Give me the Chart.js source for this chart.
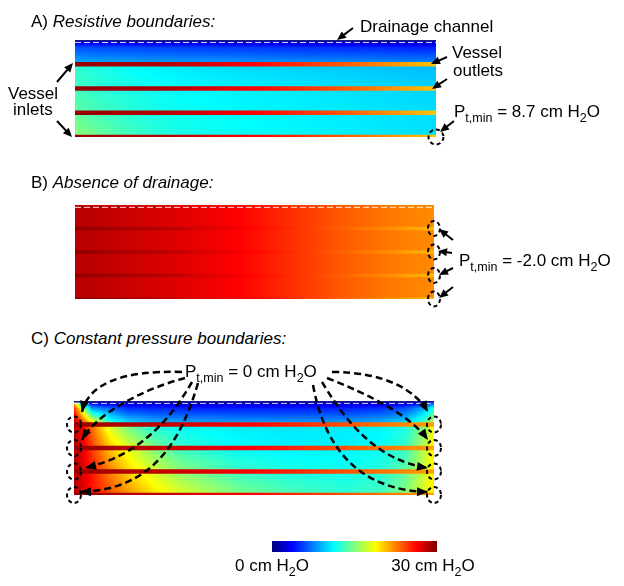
<!DOCTYPE html>
<html>
<head>
<meta charset="utf-8">
<script src="https://cdn.jsdelivr.net/npm/chart.js@4.4.1/dist/chart.umd.min.js"></script>
<style>
  body { margin: 0; background: #fff; }
  #page { position: relative; width: 624px; height: 586px; overflow: hidden; font-family: "Liberation Sans", Arial, sans-serif; color: #000; }
  #page canvas { position: absolute; left: 0; }
  .lbl { position: absolute; font-size: 17px; line-height: 17px; white-space: nowrap; }
  .lbl sub { font-size: 12.5px; line-height: 0; vertical-align: -5px; }
  .cbar-lbl { transform: translateX(-50%); }
</style>
</head>
<body>
<div id="page">
  <canvas id="panelA" width="624" height="160" style="top:0"></canvas>
  <canvas id="panelB" width="624" height="160" style="top:160px"></canvas>
  <canvas id="panelC" width="624" height="170" style="top:350px"></canvas>
  <canvas id="cbar" width="624" height="30" style="top:530px"></canvas>

  <div class="lbl" style="left:31px;top:12.6px">A) <i>Resistive boundaries:</i></div>
  <div class="lbl" style="left:360px;top:18.3px">Drainage channel</div>
  <div class="lbl" style="left:452px;top:43.9px">Vessel</div>
  <div class="lbl" style="left:453px;top:61.6px">outlets</div>
  <div class="lbl" style="left:454px;top:102.6px">P<sub>t,min</sub> = 8.7 cm H<sub>2</sub>O</div>
  <div class="lbl" style="left:8px;top:85px">Vessel</div>
  <div class="lbl" style="left:13px;top:100.6px">inlets</div>

  <div class="lbl" style="left:31px;top:173.9px">B) <i>Absence of drainage:</i></div>
  <div class="lbl" style="left:459px;top:252.3px">P<sub>t,min</sub> = -2.0 cm H<sub>2</sub>O</div>

  <div class="lbl" style="left:31px;top:329.6px">C) <i>Constant pressure boundaries:</i></div>
  <div class="lbl" style="left:185px;top:362.6px">P<sub>t,min</sub> = 0 cm H<sub>2</sub>O</div>

  <div class="lbl cbar-lbl" id="cbarLo" style="top:556.6px">0 cm H<sub>2</sub>O</div>
  <div class="lbl cbar-lbl" id="cbarHi" style="top:556.6px">30 cm H<sub>2</sub>O</div>
</div>
<script>
// ---- data (pressures in cm H2O) ----
const colorbarTicks = [0, 30];
const axialPos = [0, 0.25, 0.5, 0.75, 1];      // along the vessels, inlet -> outlet
const vesselDepths = [1, 2, 3, 4];               // depth below the drainage boundary
const drainDepth = 0.1;                          // dashed drainage line

const vesselA = [29.4, 28.4, 26.2, 23.6, 20.4];
const vesselB = [29.6, 28.3, 26.2, 23.3, 20.8];
const vesselC = [29.3, 28.0, 26.2, 23.9, 21.5];

// tissue field samples: columns along x, rows in depth
const fieldCols = [0, 0.02, 0.05, 0.1, 0.15, 0.22, 0.3, 0.45, 0.6, 0.75, 0.85, 0.92, 0.97, 1];
const fieldRows = [0, 0.3, 0.95, 1.05, 2, 3, 4];

const tissueA = [
  [1.5, 1.5, 1.5, 1.4, 1.4, 1.3, 1.3, 1.2, 1.1, 1.0, 1.0, 1.0, 1.0, 1.0],
  [6.0, 6.0, 5.9, 5.8, 5.7, 5.6, 5.5, 5.3, 5.1, 4.9, 4.8, 4.7, 4.6, 4.6],
  [8.9, 8.9, 8.8, 8.7, 8.6, 8.5, 8.4, 8.3, 8.1, 8.0, 7.9, 7.8, 7.8, 7.8],
  [12.6, 12.4, 12.1, 11.7, 11.3, 10.9, 10.6, 10.2, 9.9, 9.6, 9.4, 9.3, 9.2, 9.2],
  [13.2, 13.0, 12.7, 12.3, 12.0, 11.6, 11.3, 10.9, 10.7, 10.4, 10.2, 10.1, 10.0, 10.0],
  [14.0, 13.8, 13.4, 12.9, 12.4, 11.9, 11.5, 11.1, 10.9, 10.7, 10.5, 10.4, 10.3, 10.3],
  [15.5, 15.2, 14.7, 13.9, 13.2, 12.5, 12.0, 11.5, 11.1, 10.8, 10.6, 10.5, 10.4, 10.3]
];

const tissueBRows = [0, 4];
const tissueBProfile = [28.4, 28.3, 28.2, 28.0, 27.8, 27.5, 27.1, 26.3, 24.9, 23.6, 22.9, 22.5, 22.3, 22.2];

const tissueC = [
  [20, 5, 1.5, 1.2, 1.2, 1.1, 1.0, 1.0, 1.0, 1.0, 1.0, 1.2, 2, 4],
  [25, 18, 8, 6.5, 5.0, 4.8, 4.6, 4.5, 4.5, 4.6, 5.0, 6.0, 8.5, 12],
  [28.5, 25.5, 20, 13, 10.5, 9.3, 8.9, 8.6, 8.5, 8.6, 9.2, 10.5, 13.5, 17.5],
  [28.5, 26.8, 23.0, 17.5, 14.5, 12.0, 11.2, 10.8, 10.6, 10.7, 11.0, 12.0, 15.0, 18.8],
  [28.5, 27.2, 24.5, 20.5, 18.0, 15.0, 12.8, 11.3, 10.9, 10.9, 11.4, 12.8, 16.5, 19.2],
  [28.5, 27.5, 25.5, 22.5, 20.0, 17.5, 15.3, 13.0, 12.0, 11.7, 12.3, 14.0, 17.0, 19.4],
  [28.5, 27.5, 26.0, 24.0, 22.0, 19.8, 17.8, 15.0, 13.5, 12.6, 13.2, 15.0, 17.8, 19.5]
];

// ---- colour map ----
const cbarMax = colorbarTicks[colorbarTicks.length - 1];
function jetRGB(t) {
  t = Math.min(1, Math.max(0, t));
  const f = c => Math.round(255 * Math.min(1, Math.max(0, 1.5 - Math.abs(4 * t - c))));
  return [f(3), f(2), f(1)];
}
function jet(v) {
  const [r, g, b] = jetRGB(v / cbarMax);
  return `rgb(${r},${g},${b})`;
}

function interp1(xs, ys, x) {
  if (x <= xs[0]) return ys[0];
  for (let i = 1; i < xs.length; i++) {
    if (x <= xs[i]) {
      const t = (x - xs[i - 1]) / (xs[i] - xs[i - 1]);
      return ys[i - 1] + t * (ys[i] - ys[i - 1]);
    }
  }
  return ys[ys.length - 1];
}

function vesselGradient(chart, pressures) {
  const { ctx, chartArea, scales } = chart;
  if (!chartArea) return jet(pressures[0]);
  const x0 = scales.x.getPixelForValue(axialPos[0]);
  const x1 = scales.x.getPixelForValue(axialPos[axialPos.length - 1]);
  const g = ctx.createLinearGradient(x0, 0, x1, 0);
  for (let k = 0; k <= 40; k++) {
    const t = k / 40;
    g.addColorStop(t, jet(interp1(axialPos, pressures, scales.x.getValueForPixel(x0 + t * (x1 - x0)))));
  }
  return g;
}

// tissue field, drawn pixel by pixel through the chart scales
const fieldPlugin = (rows, grid) => ({
  id: 'field',
  beforeDatasetsDraw(chart) {
    const { ctx, chartArea: a, scales: { x, y } } = chart;
    const w = Math.round(a.right - a.left), h = Math.round(a.bottom - a.top);
    const off = document.createElement('canvas');
    off.width = w; off.height = h;
    const octx = off.getContext('2d');
    const img = octx.createImageData(w, h);
    for (let j = 0; j < h; j++) {
      const yv = y.getValueForPixel(a.top + j + 0.5);
      for (let i = 0; i < w; i++) {
        const xv = x.getValueForPixel(a.left + i + 0.5);
        const col = grid.map(r => interp1(fieldCols, r, xv));
        const [r, g, b] = jetRGB(interp1(rows, col, yv) / cbarMax);
        const p = (j * w + i) * 4;
        img.data[p] = r; img.data[p + 1] = g; img.data[p + 2] = b; img.data[p + 3] = 255;
      }
    }
    octx.putImageData(img, 0, 0);
    ctx.drawImage(off, a.left, a.top, w, h);
  }
});

function head(ctx, fx, fy, tx, ty, len, wid) {
  const a = Math.atan2(ty - fy, tx - fx);
  const bx = tx - len * Math.cos(a), by = ty - len * Math.sin(a);
  ctx.beginPath();
  ctx.moveTo(tx, ty);
  ctx.lineTo(bx + wid / 2 * Math.sin(a), by - wid / 2 * Math.cos(a));
  ctx.lineTo(bx - wid / 2 * Math.sin(a), by + wid / 2 * Math.cos(a));
  ctx.closePath();
  ctx.fill();
}

// arrows, dashed outlet circles and curved pointers (page pixel coords)
const notesPlugin = (cfg) => ({
  id: 'notes',
  afterDatasetsDraw(chart) {
    const { ctx, scales: { x, y } } = chart;
    ctx.save();
    ctx.strokeStyle = '#000';
    ctx.fillStyle = '#000';

    // dashed circles at vessel ends
    ctx.lineWidth = 2;
    ctx.setLineDash([4, 3]);
    (cfg.circles || []).forEach(c => {
      c.idx.forEach(i => {
        ctx.beginPath();
        ctx.ellipse(x.getPixelForValue(c.end), y.getPixelForValue(vesselDepths[i]), c.rx, c.ry, 0, 0, Math.PI * 2);
        ctx.stroke();
      });
    });
    ctx.setLineDash([]);

    ctx.translate(0, -cfg.pageTop);
    (cfg.arrows || []).forEach(([fx, fy, tx, ty]) => {
      const a = Math.atan2(ty - fy, tx - fx);
      ctx.lineWidth = 2;
      ctx.beginPath();
      ctx.moveTo(fx, fy);
      ctx.lineTo(tx - 6 * Math.cos(a), ty - 6 * Math.sin(a));
      ctx.stroke();
      head(ctx, fx, fy, tx, ty, 9, 8);
    });

    (cfg.curves || []).forEach(([x0, y0, c1x, c1y, c2x, c2y, x3, y3]) => {
      ctx.lineWidth = 2.5;
      ctx.setLineDash([7, 4]);
      ctx.beginPath();
      ctx.moveTo(x0, y0);
      ctx.bezierCurveTo(c1x, c1y, c2x, c2y, x3, y3);
      ctx.stroke();
      ctx.setLineDash([]);
      head(ctx, c2x, c2y, x3, y3, 11, 9);
    });
    ctx.restore();
  }
});

function panelChart(id, cfg) {
  const datasets = vesselDepths.map(d => ({
    data: axialPos.map(x => ({ x, y: d })),
    borderColor: c => vesselGradient(c.chart, cfg.vessel),
    borderWidth: cfg.vesselWidth,
    pointRadius: 0,
    clip: 0
  }));
  if (cfg.drainEdge) {
    datasets.push({
      data: axialPos.map(x => ({ x, y: 0 })),
      borderColor: '#16168a', borderWidth: 3, pointRadius: 0, clip: 0
    });
  }
  datasets.push({
    data: axialPos.map(x => ({ x, y: drainDepth })),
    borderColor: 'rgba(255,255,255,0.85)', borderWidth: 1, borderDash: [6, 3], pointRadius: 0
  });

  return new Chart(document.getElementById(id), {
    type: 'line',
    data: { datasets },
    options: {
      responsive: false,
      animation: false,
      devicePixelRatio: 1,
      events: [],
      layout: { padding: cfg.pad },
      plugins: { legend: { display: false }, tooltip: { enabled: false } },
      scales: {
        x: { type: 'linear', min: 0, max: 1, display: false },
        y: { type: 'linear', min: 0, max: 4, reverse: true, display: false }
      }
    },
    plugins: [fieldPlugin(cfg.rows, cfg.tissue), notesPlugin(cfg)]
  });
}

panelChart('panelA', {
  vessel: vesselA, tissue: tissueA, rows: fieldRows, vesselWidth: 4.5, drainEdge: true,
  pad: { left: 75, right: 188, top: 40, bottom: 23 }, pageTop: 0,
  circles: [{ end: 1, idx: [3], rx: 7.5, ry: 7.5 }],
  arrows: [[353, 28, 337, 40], [447, 57, 431, 64], [447, 79, 432, 89], [454, 121, 440, 132],
           [57, 82, 73, 63], [57, 121, 72, 137]]
});

panelChart('panelB', {
  vessel: vesselB, tissue: [tissueBProfile, tissueBProfile], rows: tissueBRows, vesselWidth: 3.5, drainEdge: false,
  pad: { left: 75, right: 190, top: 45, bottom: 21 }, pageTop: 160,
  circles: [{ end: 1, idx: [0, 1, 2, 3], rx: 6, ry: 7.5 }],
  arrows: [[453, 240, 439, 229], [452, 253, 438, 251], [453, 268, 439, 275], [453, 287, 439, 298]]
});

panelChart('panelC', {
  vessel: vesselC, tissue: tissueC, rows: fieldRows, vesselWidth: 4.5, drainEdge: true,
  pad: { left: 74, right: 190, top: 51, bottom: 25 }, pageTop: 350,
  circles: [{ end: 0, idx: [0, 1, 2, 3], rx: 7, ry: 8 }, { end: 1, idx: [0, 1, 2, 3], rx: 7, ry: 8 }],
  curves: [
    [182, 372, 120, 370, 88, 385, 82, 412],
    [185, 378, 140, 390, 95, 415, 82, 440],
    [192, 382, 170, 420, 140, 455, 85, 468],
    [198, 383, 180, 445, 150, 490, 80, 492],
    [332, 372, 385, 372, 415, 390, 428, 412],
    [327, 378, 370, 395, 410, 415, 428, 440],
    [322, 382, 345, 420, 375, 460, 428, 468],
    [313, 385, 325, 450, 360, 490, 428, 492]
  ]
});

// colour bar
const cbarChart = new Chart(document.getElementById('cbar'), {
  type: 'bar',
  data: {
    labels: ['p'],
    datasets: [{
      data: [[colorbarTicks[0], colorbarTicks[1]]],
      backgroundColor: c => {
        const { ctx, chartArea, scales } = c.chart;
        if (!chartArea) return jet(0);
        const x0 = scales.x.getPixelForValue(colorbarTicks[0]);
        const x1 = scales.x.getPixelForValue(colorbarTicks[1]);
        const g = ctx.createLinearGradient(x0, 0, x1, 0);
        for (let k = 0; k <= 32; k++) g.addColorStop(k / 32, jet(cbarMax * k / 32));
        return g;
      },
      borderWidth: 0,
      barPercentage: 1,
      categoryPercentage: 1
    }]
  },
  options: {
    indexAxis: 'y',
    responsive: false,
    animation: false,
    devicePixelRatio: 1,
    events: [],
    layout: { padding: { left: 272, right: 187, top: 11, bottom: 8 } },
    plugins: { legend: { display: false }, tooltip: { enabled: false } },
    scales: {
      x: { type: 'linear', min: colorbarTicks[0], max: colorbarTicks[1], display: false },
      y: { display: false }
    }
  }
});

const cx = cbarChart.scales.x;
document.getElementById('cbarLo').style.left = cx.getPixelForValue(colorbarTicks[0]) + 'px';
document.getElementById('cbarHi').style.left = (cx.getPixelForValue(colorbarTicks[1]) - 4) + 'px';
</script>
</body>
</html>
